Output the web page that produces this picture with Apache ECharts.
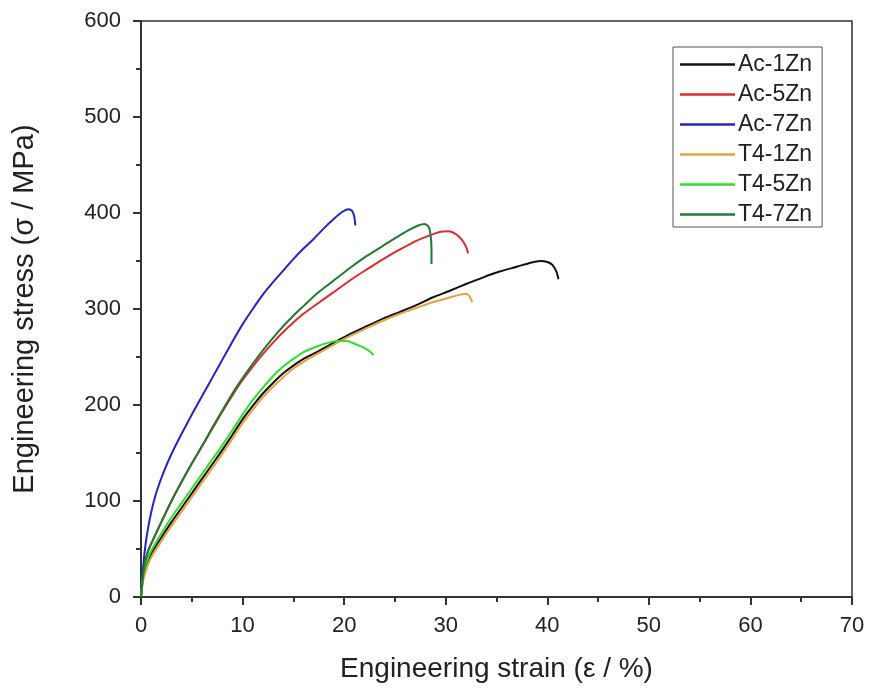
<!DOCTYPE html>
<html>
<head>
<meta charset="utf-8">
<style>
  html, body { margin: 0; padding: 0; background: #fff; }
  #chart { width: 870px; height: 697px; }
</style>
<script src="https://cdn.jsdelivr.net/npm/echarts@6/dist/echarts.min.js"></script>
</head>
<body>
<div id="chart"></div>
<script>
// strain (%) / stress (MPa) pairs
const ac1Zn = [[0,0],[0.2,20],[0.6,35],[1,45],[2,62],[3,78],[4,93],[5,108],[6,123],[7,138],[8,153],[9,169],[10,185],[11,199],[12,212],[13,223],[14,233],[15,241],[16,248],[17.3,255],[19,265],[20.6,274],[22.2,282],[23.85,290],[25.5,297],[27.1,304],[28.7,312],[30.4,319],[32,326],[33.7,333],[35.3,339],[37,344],[38.3,348],[39.3,350],[40,349],[40.5,346],[40.9,339],[41.1,331]]
const ac5Zn = [[0,0],[0.3,30],[0.7,48],[1.2,60],[2,78],[3,100],[4,120],[5,139],[6,157],[7,175],[8,193],[9,210],[10,226],[11,240],[12,253],[13,265],[14,276],[15,286],[16,295],[17.3,305],[18.9,317],[20.6,330],[22.2,341],[23.85,352],[25.5,362],[27.1,371],[28.5,377],[29.5,380.5],[30.3,381],[31,378],[31.6,372],[32,365],[32.2,358]]
const ac7Zn = [[0,0],[0.2,30],[0.45,55],[0.7,72],[1,88],[1.4,105],[1.8,118],[2.3,132],[3,149],[4,170],[5,190],[6,209],[7,228],[8,247],[9,266],[10,284],[11,300],[12,315],[13,328],[14,340],[15,352],[16,363],[17,373],[18,384],[19,394],[19.8,401],[20.4,404],[20.8,402],[21,396],[21.1,387]]
const t41Zn = [[0,0],[0.2,16],[0.6,31],[1,41],[2,58],[3,74],[4,89],[5,104],[6,119],[7,134],[8,149],[9,165],[10,181],[11,195],[12,208],[13,219],[14,229],[15,238],[16,245],[17.3,253],[19,263],[20.6,272],[22.2,280],[23.85,288],[25.5,295],[27.1,301],[28.7,307],[30.4,312],[31.4,315],[32,316],[32.3,314],[32.5,310],[32.6,307]]
const t45Zn = [[0,0],[0.2,22],[0.6,38],[1,48],[2,66],[3,83],[4,98],[5,113],[6,128],[7,143],[8,158],[9,174],[10,190],[11,205],[12,218],[13,230],[14,240],[15,248],[16,255],[17.3,261],[18.5,265],[19.5,267],[20.4,266.5],[21.2,263],[21.9,260],[22.5,256],[22.9,252]]
const t47Zn = [[0,0],[0.3,30],[0.7,48],[1.2,60],[2,78],[3,100],[4,120],[5,139],[6,157],[7,176],[8,194],[9,212],[10,228],[11,243],[12,257],[13,270],[14,282],[15,293],[16,303],[17.3,316],[18.9,329],[20.6,343],[22.2,355],[23.85,366],[25.5,377],[26.5,383],[27.3,387],[27.9,388.5],[28.3,386],[28.5,378],[28.6,362],[28.6,347]]

const seriesNames = ['Ac-1Zn', 'Ac-5Zn', 'Ac-7Zn', 'T4-1Zn', 'T4-5Zn', 'T4-7Zn']
const seriesData = [ac1Zn, ac5Zn, ac7Zn, t41Zn, t45Zn, t47Zn]
const seriesColors = ['#111111', '#e02a2e', '#2424c4', '#e8a23c', '#2ee02a', '#1f7a32']

const chart = echarts.init(document.getElementById('chart'), null, { renderer: 'canvas' })
const font = 'Liberation Sans, Arial, sans-serif'

const option = {
  animation: false,
  backgroundColor: '#fff',
  grid: {
    left: 141,
    right: 18,
    top: 21,
    bottom: 100,
    show: true,
    borderColor: '#333',
    borderWidth: 1.5,
  },
  legend: {
    orient: 'vertical',
    left: 673,
    top: 47,
    data: seriesNames,
    icon: 'rect',
    itemWidth: 55,
    itemHeight: 2.5,
    itemGap: 7,
    padding: [6, 10, 1, 7],
    borderColor: '#555',
    borderWidth: 1,
    textStyle: { fontFamily: font, fontSize: 23, lineHeight: 22, color: '#222', padding: [0, 0, 0, -2] },
  },
  xAxis: {
    type: 'value',
    min: 0,
    max: 70,
    interval: 10,
    name: 'Engineering strain (ε / %)',
    nameLocation: 'middle',
    nameGap: 58,
    nameTextStyle: { fontFamily: font, fontSize: 28, color: '#222' },
    axisLine: { lineStyle: { color: '#333', width: 2 } },
    axisTick: { length: 8, lineStyle: { color: '#333', width: 2 } },
    minorTick: { show: true, splitNumber: 2, length: 5, lineStyle: { color: '#333', width: 2 } },
    axisLabel: { fontFamily: font, fontSize: 22, color: '#222', margin: 18 },
    splitLine: { show: false },
  },
  yAxis: {
    type: 'value',
    min: 0,
    max: 600,
    interval: 100,
    name: 'Engineering stress (σ / MPa)',
    nameLocation: 'middle',
    nameGap: 102,
    nameTextStyle: { fontFamily: font, fontSize: 29, color: '#222' },
    axisLine: { show: true, lineStyle: { color: '#333', width: 2 } },
    axisTick: { show: true, length: 8, lineStyle: { color: '#333', width: 2 } },
    minorTick: { show: true, splitNumber: 2, length: 5, lineStyle: { color: '#333', width: 2 } },
    axisLabel: { fontFamily: font, fontSize: 22, color: '#222', margin: 20 },
    splitLine: { show: false },
  },
  series: seriesNames.map(function (name, i) {
    return {
      name: name,
      type: 'line',
      data: seriesData[i],
      smooth: 0.25,
      symbol: 'none',
      color: seriesColors[i],
      lineStyle: { width: 2 },
      z: i === 5 ? 3 : 2,
    }
  }),
}
chart.setOption(option)
</script>
</body>
</html>
